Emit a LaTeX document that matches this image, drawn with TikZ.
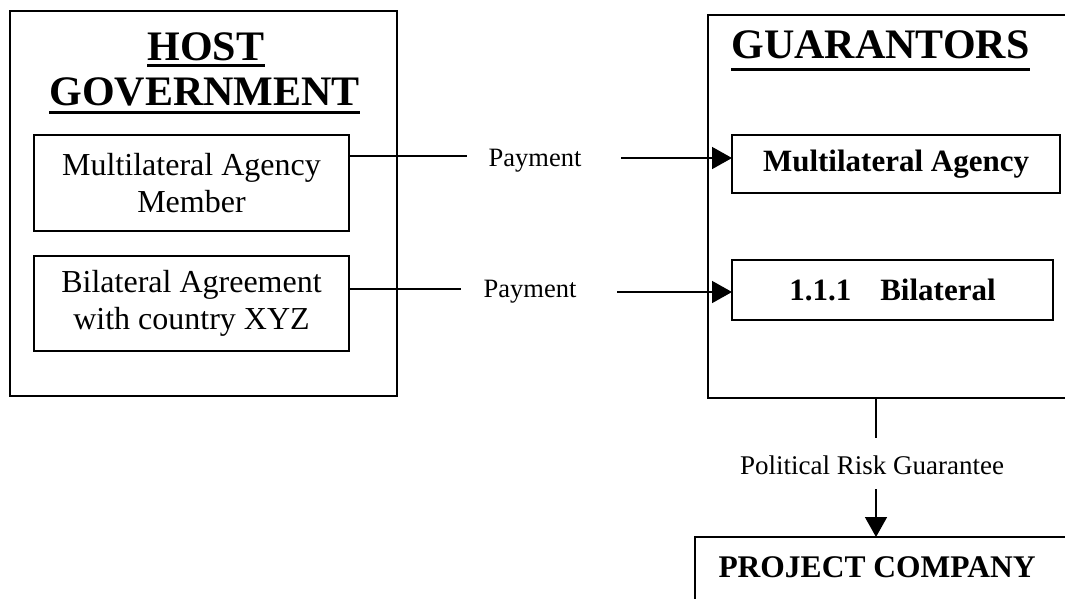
\documentclass[tikz,border=0pt]{standalone}
\usepackage{fontspec}
\setmainfont{Liberation Serif}
\usetikzlibrary{arrows.meta}
\begin{document}
\begin{tikzpicture}[x=1pt,y=-1pt,
  frame/.style={draw,line width=1.8pt,rectangle,inner sep=0pt,outer sep=0pt},
  title/.style={anchor=base,inner sep=0pt,font=\fontsize{42}{45}\selectfont\bfseries},
  plain/.style={frame,align=center,font=\fontsize{32}{37}\selectfont},
  strong/.style={frame,align=center,font=\fontsize{31}{36}\selectfont\bfseries},
  lbl/.style={anchor=base,inner sep=0pt,font=\fontsize{26.5}{30}\selectfont},
  conn/.style={line width=1.6pt},
  arr/.style={conn,-{Triangle[length=20pt,width=22pt]}},
  uline/.style={line width=2.6pt}
]
\useasboundingbox (0,0) rectangle (1065,598);
\clip (0,0) rectangle (1065,598);

% outer frames
\node[frame,minimum width=387pt,minimum height=385pt] (host) at (203.5,203.5) {};
\node[frame,minimum width=380pt,minimum height=383pt] (guar) at (898,206.5) {};
\node[frame,minimum width=390pt,minimum height=90pt] (proj) at (890,582) {};

% titles
\node[title] (hostA) at (206,60) {HOST};
\node[title] (hostB) at (204.5,105) {GOVERNMENT};
\node[title] (guarT) at (880.5,58) {GUARANTORS};
\draw[uline] ([yshift=-5.5pt]hostA.base west) -- ([yshift=-5.5pt]hostA.base east);
\draw[uline] ([yshift=-7.5pt]hostB.base west) -- ([yshift=-7.5pt]hostB.base east);
\draw[uline] ([yshift=-11.5pt]guarT.base west) -- ([yshift=-11.5pt]guarT.base east);

% host government members
\node[plain,minimum width=315pt,minimum height=96pt] (hmulti) at (191.5,183)
  {Multilateral Agency\\Member};
\node[plain,minimum width=315pt,minimum height=95pt] (hbilat) at (191.5,303.5)
  {Bilateral Agreement\\with country XYZ};

% guarantors
\node[strong,minimum width=328pt,minimum height=58pt] (gmulti) at (896,164)
  {Multilateral Agency};
\node[strong,minimum width=321pt,minimum height=60pt] (gbilat) at (892.5,290)
  {1.1.1\hspace{29pt}Bilateral};

% project company
\node[anchor=base,inner sep=0pt,font=\fontsize{31.5}{36}\selectfont\bfseries] (projT) at (877,577) {PROJECT COMPANY};

% payment flows
\coordinate (p1a) at (467,156);
\coordinate (p1b) at (621,158);
\node[lbl] (pay1) at (535,166) {Payment};
\draw[conn] (hmulti.east |- p1a) -- (p1a);
\draw[arr] (p1b) -- (gmulti.west |- p1b);

\coordinate (p2a) at (461,289);
\coordinate (p2b) at (617,292);
\node[lbl] (pay2) at (530,297) {Payment};
\draw[conn] (hbilat.east |- p2a) -- (p2a);
\draw[arr] (p2b) -- (gbilat.west |- p2b);

% guarantee
\coordinate (g1) at (876,438);
\coordinate (g2) at (876,489);
\node[lbl,font=\fontsize{27}{30}\selectfont] (risk) at (872,474) {Political Risk Guarantee};
\draw[conn] (guar.south -| g1) -- (g1);
\draw[arr] (g2) -- (proj.north -| g2);
\end{tikzpicture}
\end{document}
